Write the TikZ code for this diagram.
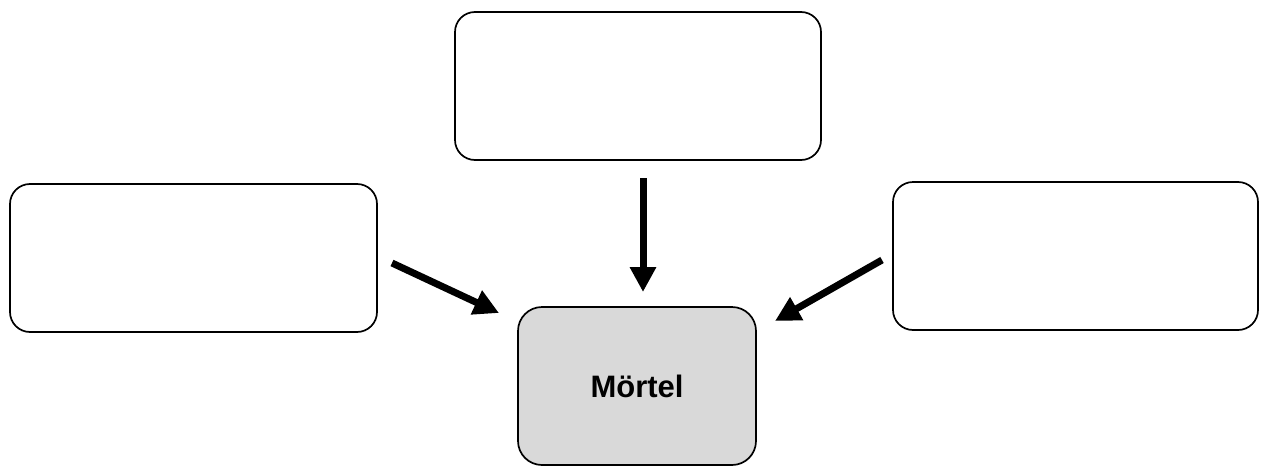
\documentclass[tikz,border=0pt]{standalone}
\usepackage{fontspec}
\setmainfont{Liberation Sans}
\usetikzlibrary{arrows.meta}
\begin{document}
\begin{tikzpicture}[x=1pt,y=-1pt,
  box/.style={draw=black, line width=1.7pt, rounded corners=20pt, fill=white,
    inner sep=0pt, minimum width=#1, minimum height=148pt},
  mainbox/.style={draw=black, line width=1.7pt, rounded corners=24pt, fill=gray!30,
    inner sep=0pt, minimum width=238pt, minimum height=158pt,
    font=\fontsize{31}{36}\selectfont\bfseries},
  flow/.style={line width=7pt, -{Triangle[length=25pt,width=25pt]}}]
  \useasboundingbox (0,0) rectangle (1261,466);
  % boxes
  \node[box=366pt] (top) at (638,86) {};
  \node[box=367pt] (left) at (193.5,258) {};
  \node[box=365pt] (right) at (1075.5,256) {};
  \node[mainbox] (main) at (637,386) {Mörtel};
  % arrow end points
  \coordinate (topS) at (643,178);
  \coordinate (topE) at (643,292);
  \coordinate (leftS) at (392,263);
  \coordinate (leftE) at (499,313);
  \coordinate (rightS) at (882,260);
  \coordinate (rightE) at (775,321);
  % arrows
  \draw[flow] (topS) -- (topE);
  \draw[flow] (leftS) -- (leftE);
  \draw[flow] (rightS) -- (rightE);
\end{tikzpicture}
\end{document}
